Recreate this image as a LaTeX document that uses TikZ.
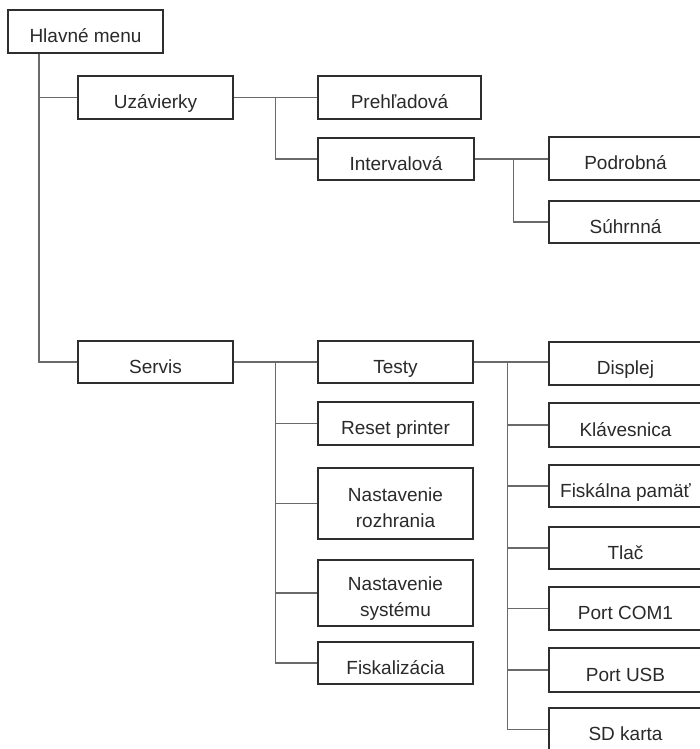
\documentclass[tikz,border=0pt]{standalone}
\usepackage{fontspec}
\setmainfont{Liberation Sans}
\definecolor{boxline}{HTML}{2E2E2E}
\definecolor{conn}{HTML}{6A6A6A}
\definecolor{txt}{HTML}{2A2A2A}
\tikzset{
  mbox/.style={draw=boxline, line width=1.2pt, rectangle, inner sep=0pt, minimum width=155pt, minimum height=43pt,
    align=center, text=txt, font=\fontsize{19}{26}\selectfont, text height=22pt, text depth=0pt},
  twoline/.style={text height=0pt, text depth=5pt},
  rbox/.style={mbox, minimum width=153pt},
  link/.style={draw=conn, line width=1.4pt}
}
\newcommand{\twolines}[2]{\begin{tabular}[t]{@{}c@{}}#1\\#2\end{tabular}}
\begin{document}
\begin{tikzpicture}[x=1pt,y=-1pt]
\useasboundingbox (0,0) rectangle (700,749);
\clip (0,0) rectangle (700,749);
\fill[white] (0,0) rectangle (700,749);
% level 0/1
\node[mbox] (hm) at (85.5,31.5) {Hlavné menu};
\node[mbox] (uz) at (155.5,97.5) {Uzávierky};
\node[mbox, minimum height=42pt] (se) at (155.5,362) {Servis};
% Uzavierky children
\node[mbox, minimum width=163pt] (pr) at (399.5,97.5) {Prehľadová};
\node[mbox, minimum width=156pt, minimum height=42pt] (iv) at (396,159) {Intervalová};
\node[rbox] (po) at (625.5,158.5) {Podrobná};
\node[rbox, minimum height=42pt] (su) at (625.5,222) {Súhrnná};
% Servis children
\node[mbox, minimum height=42pt] (te) at (395.5,362) {Testy};
\node[mbox] (rp) at (395.5,423.5) {Reset printer};
\node[mbox, twoline, minimum height=71pt] (nr) at (395.5,503.5) {\twolines{Nastavenie}{rozhrania}};
\node[mbox, twoline, minimum height=66pt] (ns) at (395.5,593) {\twolines{Nastavenie}{systému}};
\node[mbox, minimum height=42pt] (fi) at (395.5,663) {Fiskalizácia};
% Testy children
\node[rbox] (di) at (625.5,363.5) {Displej};
\node[rbox, minimum height=44pt] (kl) at (625.5,425) {Klávesnica};
\node[rbox, minimum height=42pt] (fp) at (625.5,486) {Fiskálna pamäť};
\node[rbox, minimum height=42pt] (tl) at (625.5,548) {Tlač};
\node[rbox] (pc) at (625.5,608.5) {Port COM1};
\node[rbox, minimum height=44pt] (pu) at (625.5,670) {Port USB};
\node[rbox] (sd) at (625.5,729.5) {SD karta};
% connectors
\draw[link] ([xshift=-46.5pt]hm.south) |- (uz.west);
\draw[link] ([xshift=-46.5pt]hm.south) |- (se.west);
\draw[link] (uz.east) -- (uz.east -| pr.west);
\draw[link] ([xshift=42pt]uz.east) |- (iv.west);
\draw[link] (iv.east) -- (iv.east -| po.west);
\draw[link] ([xshift=39pt]iv.east) |- (su.west);
\draw[link] (se.east) -- (te.west);
\draw[link] ([xshift=42pt]se.east) |- (rp.west);
\draw[link] ([xshift=42pt]se.east) |- (nr.west);
\draw[link] ([xshift=42pt]se.east) |- (ns.west);
\draw[link] ([xshift=42pt]se.east) |- (fi.west);
\draw[link] (te.east) -- (te.east -| di.west);
\draw[link] ([xshift=34pt]te.east) |- (kl.west);
\draw[link] ([xshift=34pt]te.east) |- (fp.west);
\draw[link] ([xshift=34pt]te.east) |- (tl.west);
\draw[link] ([xshift=34pt]te.east) |- (pc.west);
\draw[link] ([xshift=34pt]te.east) |- (pu.west);
\draw[link] ([xshift=34pt]te.east) |- (sd.west);
\end{tikzpicture}
\end{document}
